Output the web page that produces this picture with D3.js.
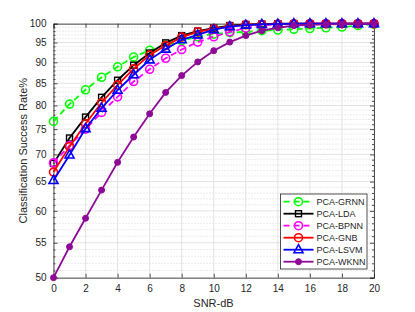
<!DOCTYPE html>
<html>
<head>
<meta charset="utf-8">
<script src="https://cdn.jsdelivr.net/npm/d3@7"></script>
<style>
  body { margin: 0; background: #fff; }
  text { font-family: "Liberation Sans", Arial, sans-serif; fill: #262626; }
</style>
</head>
<body>
<svg id="chart" width="415" height="312"></svg>
<script>
// values
var snr = [0, 1, 2, 3, 4, 5, 6, 7, 8, 9, 10, 11, 12, 13, 14, 15, 16, 17, 18, 19, 20];
var grnn = [76.6, 80.3, 83.5, 86.4, 88.9, 91.3, 93.0, 94.3, 95.5, 96.5, 97.2, 97.6, 97.8, 98.1, 98.3, 98.5, 98.7, 98.9, 99.1, 99.5, 99.8];
var lda  = [68.3, 73.2, 77.5, 81.8, 85.7, 89.3, 92.3, 94.9, 96.8, 98.0, 98.8, 99.5, 99.8, 99.9, 100, 100, 100, 100, 100, 100, 100];
var bpnn = [68.4, 71.7, 75.0, 78.5, 81.9, 85.4, 88.3, 91.0, 93.2, 95.1, 96.5, 97.8, 98.8, 99.6, 99.8, 99.9, 100, 100, 100, 100, 100];
var gnb  = [66.7, 71.5, 76.1, 80.6, 84.6, 88.4, 91.8, 94.2, 96.4, 97.8, 98.6, 99.3, 99.7, 99.8, 99.9, 100, 100, 100, 100, 100, 100];
var lsvm = [65.2, 69.9, 75.1, 79.4, 83.4, 87.0, 90.6, 93.3, 95.7, 97.0, 98.4, 99.2, 99.6, 99.8, 99.9, 100, 100, 100, 100, 100, 100];
var wknn = [50.0, 54.4, 58.8, 63.5, 68.5, 73.4, 78.2, 82.9, 86.8, 90.1, 92.9, 95.1, 96.8, 98.1, 98.9, 99.5, 99.7, 99.8, 99.9, 100, 100];
var xTicks = [0, 2, 4, 6, 8, 10, 12, 14, 16, 18, 20];
var yTicks = [50, 55, 60, 65, 70, 75, 80, 85, 90, 95, 100];
var yMinor = [51, 52, 53, 54, 56, 57, 58, 59, 61, 62, 63, 64, 66, 67, 68, 69, 71, 72, 73, 74, 76, 77, 78, 79, 81, 82, 83, 84, 86, 87, 88, 89, 91, 92, 93, 94, 96, 97, 98, 99];

var series = [
  {name: "PCA-GRNN", values: grnn, color: "#00ff00", dash: "6,4", marker: "circle"},
  {name: "PCA-LDA",  values: lda,  color: "#000000", dash: null,  marker: "square"},
  {name: "PCA-BPNN", values: bpnn, color: "#ff00ff", dash: "6,4", marker: "circle"},
  {name: "PCA-GNB",  values: gnb,  color: "#ff0000", dash: null,  marker: "circle"},
  {name: "PCA-LSVM", values: lsvm, color: "#0000ff", dash: null,  marker: "triangle"},
  {name: "PCA-WKNN", values: wknn, color: "#8e0a96", dash: null,  marker: "dot"}
];

var svg = d3.select("#chart"),
    pLeft = 53.5, pRight = 374, pTop = 23.7, pBottom = 277.7;

var x = d3.scaleLinear().domain([0, 20]).range([pLeft, pRight]);
var y = d3.scaleLog().domain([50, 100]).range([pBottom, pTop]);

svg.append("rect").attr("x", pLeft).attr("y", pTop)
    .attr("width", pRight - pLeft).attr("height", pBottom - pTop).attr("fill", "#fff");

// grid
var grid = svg.append("g");
grid.selectAll(".ymin").data(yMinor).enter().append("line")
    .attr("x1", pLeft).attr("x2", pRight)
    .attr("y1", function(d) { return y(d); }).attr("y2", function(d) { return y(d); })
    .attr("stroke", "#cfcfcf").attr("stroke-width", 0.8).attr("stroke-dasharray", "1,2");
grid.selectAll(".ymaj").data(yTicks).enter().append("line")
    .attr("x1", pLeft).attr("x2", pRight)
    .attr("y1", function(d) { return y(d); }).attr("y2", function(d) { return y(d); })
    .attr("stroke", "#e3e3e3").attr("stroke-width", 1);
grid.selectAll(".xmaj").data(xTicks).enter().append("line")
    .attr("y1", pTop).attr("y2", pBottom)
    .attr("x1", function(d) { return x(d); }).attr("x2", function(d) { return x(d); })
    .attr("stroke", "#e3e3e3").attr("stroke-width", 1);

// axes
var axisColor = "#262626";
var gx = svg.append("g").attr("transform", "translate(0," + pBottom + ")")
    .call(d3.axisBottom(x).tickValues(xTicks).tickSize(-4).tickPadding(7).tickFormat(d3.format("d")));
var gxTop = svg.append("g").attr("transform", "translate(0," + pTop + ")")
    .call(d3.axisTop(x).tickValues(xTicks).tickSize(-4).tickFormat(""));
var gy = svg.append("g").attr("transform", "translate(" + pLeft + ",0)")
    .call(d3.axisLeft(y).tickValues(yTicks).tickSize(-4).tickPadding(7).tickFormat(d3.format("d")));
var gyR = svg.append("g").attr("transform", "translate(" + pRight + ",0)")
    .call(d3.axisRight(y).tickValues(yTicks).tickSize(-4).tickFormat(""));
var gyMin = svg.append("g").attr("transform", "translate(" + pLeft + ",0)")
    .call(d3.axisLeft(y).tickValues(yMinor).tickSize(-2).tickFormat(""));
var gyMinR = svg.append("g").attr("transform", "translate(" + pRight + ",0)")
    .call(d3.axisRight(y).tickValues(yMinor).tickSize(-2).tickFormat(""));

[gx, gxTop, gy, gyR, gyMin, gyMinR].forEach(function(g) {
  g.selectAll("path").attr("stroke", axisColor).attr("stroke-width", 0.8);
  g.selectAll("line").attr("stroke", axisColor).attr("stroke-width", 0.8);
  g.selectAll("text").style("font-size", "10px").attr("fill", axisColor)
    .style("font-family", "'Liberation Sans', Arial, sans-serif");
});
gyMin.select("path").remove();
gyMinR.select("path").remove();

// labels
svg.append("text").attr("x", 213.5).attr("y", 307).attr("text-anchor", "middle")
    .style("font-size", "11px").text("SNR-dB");
svg.append("text").attr("transform", "translate(27," + ((pTop + pBottom) / 2) + ") rotate(-90)")
    .attr("text-anchor", "middle").style("font-size", "11px").text("Classification Success Rate%");

function drawMarker(g, s, cx, cy) {
  if (s.marker === "circle") {
    g.append("circle").attr("cx", cx).attr("cy", cy).attr("r", 4)
      .attr("fill", "none").attr("stroke", s.color).attr("stroke-width", 1.6);
  } else if (s.marker === "square") {
    g.append("rect").attr("x", cx - 3).attr("y", cy - 3).attr("width", 6).attr("height", 6)
      .attr("fill", "none").attr("stroke", s.color).attr("stroke-width", 1.4);
  } else if (s.marker === "triangle") {
    g.append("path").attr("d", "M" + cx + "," + (cy - 5) + "L" + (cx + 4.5) + "," + (cy + 3) + "L" + (cx - 4.5) + "," + (cy + 3) + "Z")
      .attr("fill", "none").attr("stroke", s.color).attr("stroke-width", 1.6);
  } else {
    g.append("circle").attr("cx", cx).attr("cy", cy).attr("r", 3)
      .attr("fill", s.color).attr("stroke", s.color);
  }
}

var line = d3.line()
    .x(function(d, i) { return x(snr[i]); })
    .y(function(d) { return y(d); });

series.forEach(function(s) {
  var g = svg.append("g");
  g.append("path").datum(s.values).attr("d", line)
    .attr("fill", "none").attr("stroke", s.color).attr("stroke-width", 1.8)
    .attr("stroke-dasharray", s.dash);
  s.values.forEach(function(v, i) { drawMarker(g, s, x(snr[i]), y(v)); });
});

// legend
var lg = svg.append("g").attr("transform", "translate(280.5,194)");
lg.append("rect").attr("width", 86.5).attr("height", 75)
    .attr("fill", "#fff").attr("stroke", axisColor).attr("stroke-width", 0.8);
series.forEach(function(s, i) {
  var row = lg.append("g").attr("transform", "translate(0," + (7.7 + i * 12) + ")");
  row.append("line").attr("x1", 3).attr("x2", 33).attr("y1", 0).attr("y2", 0)
    .attr("stroke", s.color).attr("stroke-width", 1.8).attr("stroke-dasharray", s.dash);
  drawMarker(row, s, 18, 0);
  row.append("text").attr("x", 36).attr("y", 0).attr("dy", "0.35em")
    .style("font-size", "9px").text(s.name);
});
</script>
</body>
</html>
